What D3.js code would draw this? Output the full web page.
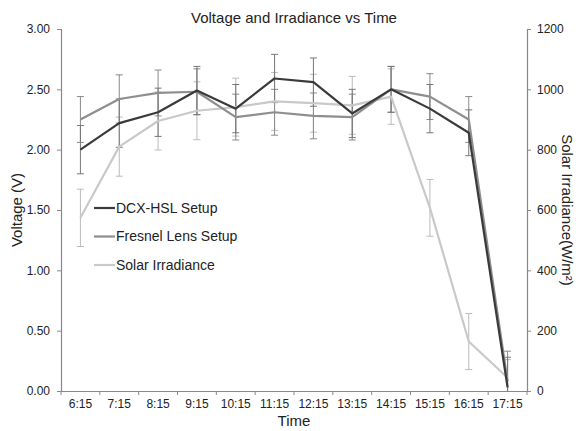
<!DOCTYPE html>
<html>
<head>
<meta charset="utf-8">
<script src="https://cdn.jsdelivr.net/npm/d3@7"></script>
<style>
  body { margin: 0; background: #fff; }
  text { font-family: "Liberation Sans", Arial, sans-serif; fill: #222; }
</style>
</head>
<body>
<div id="chart"></div>
<script>
// Data
const times = ["6:15", "7:15", "8:15", "9:15", "10:15", "11:15", "12:15", "13:15", "14:15", "15:15", "16:15", "17:15"];
const dcxVoltage = [2.00, 2.22, 2.31, 2.49, 2.34, 2.59, 2.56, 2.30, 2.50, 2.34, 2.14, 0.03];
const dcxError = [0.20, 0.20, 0.20, 0.20, 0.20, 0.20, 0.20, 0.20, 0.19, 0.20, 0.19, 0.25];
const fresnelVoltage = [2.25, 2.42, 2.47, 2.48, 2.27, 2.31, 2.28, 2.27, 2.50, 2.44, 2.25, 0.08];
const fresnelError = [0.19, 0.20, 0.19, 0.19, 0.19, 0.19, 0.19, 0.19, 0.19, 0.19, 0.19, 0.25];
const irradiance = [574, 810, 895, 929, 941, 960, 954, 947, 976, 607, 164, 44];
const irradianceError = [95, 98, 96, 96, 96, 96, 96, 96, 92, 94, 93, 60];
const voltageTicks = [0, 0.5, 1, 1.5, 2, 2.5, 3];
const irradianceTicks = [0, 200, 400, 600, 800, 1000, 1200];

const W = 578, H = 431;
const margin = { top: 29, right: 51, bottom: 40, left: 61 };

const svg = d3.select("#chart").append("svg")
  .attr("width", W)
  .attr("height", H);

const x = d3.scaleBand()
  .domain(times)
  .range([margin.left, W - margin.right]);

const yV = d3.scaleLinear().domain([0, 3]).range([H - margin.bottom, margin.top]);
const yI = d3.scaleLinear().domain([0, 1200]).range([H - margin.bottom, margin.top]);

const axisColor = "#888";

// Left axis
const leftAxis = svg.append("g")
  .attr("transform", `translate(${margin.left},0)`)
  .call(d3.axisLeft(yV).tickValues(voltageTicks).tickFormat(d3.format(".2f")).tickSize(4).tickPadding(7));

// Right axis
const rightAxis = svg.append("g")
  .attr("transform", `translate(${W - margin.right},0)`)
  .call(d3.axisRight(yI).tickValues(irradianceTicks).tickFormat(d3.format("d")).tickSize(4).tickPadding(6));

// Bottom axis, ticks at band edges
const bottomAxis = svg.append("g")
  .attr("transform", `translate(0,${H - margin.bottom})`)
  .call(d3.axisBottom(x).tickSize(0).tickPadding(8));

bottomAxis.selectAll(".edge")
  .data(d3.range(times.length + 1))
  .enter()
  .append("line")
  .attr("x1", i => margin.left + i * x.step())
  .attr("x2", i => margin.left + i * x.step())
  .attr("y1", 0)
  .attr("y2", 4)
  .attr("stroke", axisColor);

[leftAxis, rightAxis, bottomAxis].forEach(g => {
  g.selectAll(".domain").attr("stroke", axisColor).attr("stroke-width", 1.2);
  g.selectAll(".tick line").attr("stroke", axisColor);
  g.selectAll("text").style("font-size", "12px").attr("fill", "#222");
});

const cx = d => x(d) + x.bandwidth() / 2;

// Error bars
function errorBars(values, errors, scale, color) {
  const g = svg.append("g");
  const capW = 3.5;
  values.forEach((v, i) => {
    const px = cx(times[i]);
    const top = scale(v + errors[i]);
    const bot = scale(Math.max(0, v - errors[i]));
    g.append("line").attr("x1", px).attr("x2", px).attr("y1", top).attr("y2", bot)
      .attr("stroke", color).attr("stroke-width", 1);
    [top, bot].forEach(yy => {
      if (yy >= H - margin.bottom - 0.5) return;
      g.append("line").attr("x1", px - capW).attr("x2", px + capW).attr("y1", yy).attr("y2", yy)
        .attr("stroke", color).attr("stroke-width", 1);
    });
  });
}

errorBars(irradiance, irradianceError, yI, "#bbb");
errorBars(fresnelVoltage, fresnelError, yV, "#8a8a8a");
errorBars(dcxVoltage, dcxError, yV, "#777");

// Lines
const series = [
  { name: "DCX-HSL Setup", values: dcxVoltage, scale: yV, color: "#3a3a3a" },
  { name: "Fresnel Lens Setup", values: fresnelVoltage, scale: yV, color: "#8e8e8e" },
  { name: "Solar Irradiance", values: irradiance, scale: yI, color: "#c9c9c9" }
];

[series[2], series[1], series[0]].forEach(s => {
  const line = d3.line()
    .x((d, i) => cx(times[i]))
    .y(d => s.scale(d));
  svg.append("path")
    .datum(s.values)
    .attr("d", line)
    .attr("fill", "none")
    .attr("stroke", s.color)
    .attr("stroke-width", 2.2)
    .attr("stroke-linejoin", "round");
});

// Legend
const legend = svg.append("g").attr("transform", "translate(94,208)");
series.forEach((s, i) => {
  const row = legend.append("g").attr("transform", `translate(0,${i * 28.5})`);
  row.append("line").attr("x1", 0).attr("x2", 21).attr("y1", 0).attr("y2", 0)
    .attr("stroke", s.color).attr("stroke-width", 2.2);
  row.append("text").attr("x", 22).attr("y", 0).attr("dy", "0.35em")
    .style("font-size", "14px").text(s.name);
});

// Title and axis titles
svg.append("text")
  .attr("x", 294).attr("y", 23)
  .attr("text-anchor", "middle")
  .style("font-size", "15px")
  .text("Voltage and Irradiance vs Time");

svg.append("text")
  .attr("x", 294).attr("y", 426)
  .attr("text-anchor", "middle")
  .style("font-size", "15px")
  .text("Time");

svg.append("text")
  .attr("transform", "translate(22,210) rotate(-90)")
  .attr("text-anchor", "middle")
  .style("font-size", "15px")
  .text("Voltage (V)");

svg.append("text")
  .attr("transform", "translate(562,210) rotate(90)")
  .attr("text-anchor", "middle")
  .style("font-size", "15px")
  .text("Solar Irradiance(W/m²)");
</script>
</body>
</html>
